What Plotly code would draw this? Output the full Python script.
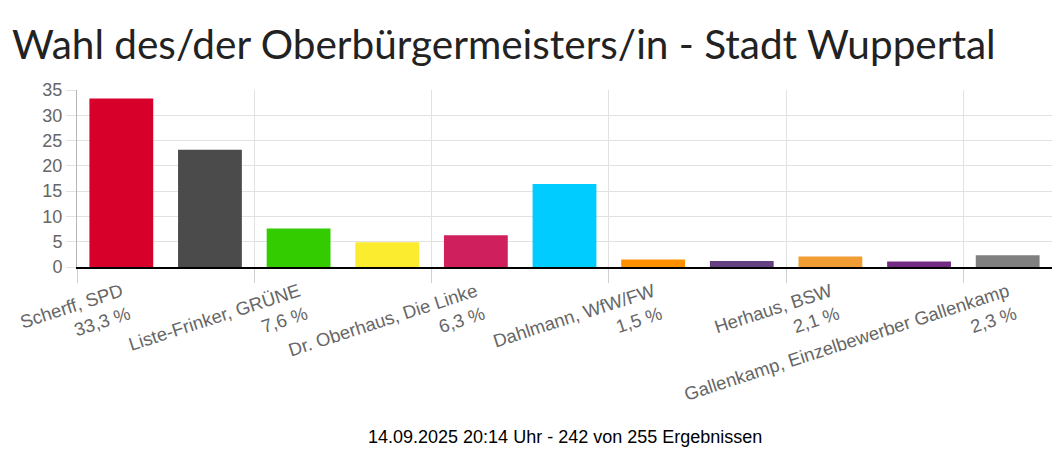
import plotly.graph_objects as go

candidates = [
    "Scherff, SPD", "Nocke, CDU", "Liste-Frinker, GRÜNE", "FDP",
    "Dr. Oberhaus, Die Linke", "AfD", "Dahlmann, WfW/FW", "Die PARTEI",
    "Herhaus, BSW", "Volt", "Gallenkamp, Einzelbewerber Gallenkamp",
]
values = [33.3, 23.2, 7.6, 4.9, 6.3, 16.4, 1.5, 1.2, 2.1, 1.1, 2.3]
colors = ["#d7002b", "#4b4b4b", "#33cc00", "#fbec30", "#d01f5d", "#00ccff",
          "#ff9100", "#634283", "#f09d33", "#732c82", "#808080"]
y_ticks = [0, 5, 10, 15, 20, 25, 30, 35]
title_text = "Wahl des/der Oberbürgermeisters/in - Stadt Wuppertal"
footer_text = "14.09.2025 20:14 Uhr - 242 von 255 Ergebnissen"

x_pos = list(range(len(candidates)))
label_idx = x_pos[::2]
label_text = [candidates[i] + "<br>" + f"{values[i]:.1f}".replace(".", ",") + " %"
              for i in label_idx]

fig = go.Figure(go.Bar(
    x=x_pos, y=values, marker=dict(color=colors, line=dict(width=0)),
    width=0.72, hoverinfo="skip",
))

W, H = 1057, 454
L, R, T, B = 77, 5, 90, 187

fig.update_layout(
    width=W, height=H,
    margin=dict(l=L, r=R, t=T, b=B),
    paper_bgcolor="white", plot_bgcolor="white",
    showlegend=False,
    title=dict(text=title_text, x=12 / W, xanchor="left", y=1 - 45 / H, yanchor="middle",
               yref="container", font=dict(family="Lato", size=40.5, color="#222")),
    xaxis=dict(
        range=[-0.5, len(candidates) - 0.5],
        tickmode="array", tickvals=label_idx, ticktext=label_text,
        tickangle=-18, ticks="", showgrid=False,
        tickfont=dict(family="Liberation Sans, Arial", size=18.5, color="#666"),
        showline=True, linecolor="#000", linewidth=2,
        ticklabelstandoff=5,
        minor=dict(tickmode="linear", tick0=-0.5, dtick=2, showgrid=True,
                   gridcolor="#e2e2e2", gridwidth=1, ticks="outside", ticklen=14,
                   tickcolor="#d0d0d0", tickwidth=1),
        zeroline=False,
    ),
    yaxis=dict(
        range=[0, 35], tickmode="array", tickvals=y_ticks,
        showgrid=True, gridcolor="#e2e2e2", gridwidth=1,
        ticks="outside", ticklen=10, tickcolor="#e2e2e2",
        showline=True, linecolor="#b5b5b5", linewidth=1,
        tickfont=dict(family="Liberation Sans, Arial", size=18, color="#666"),
        zeroline=False,
    ),
    annotations=[dict(
        text=footer_text, xref="paper", yref="paper", x=0.5, y=-170 / 177,
        xanchor="center", yanchor="middle", showarrow=False,
        font=dict(family="Liberation Sans, Arial", size=18, color="#000"),
    )],
)

fig.write_html("out.html")
